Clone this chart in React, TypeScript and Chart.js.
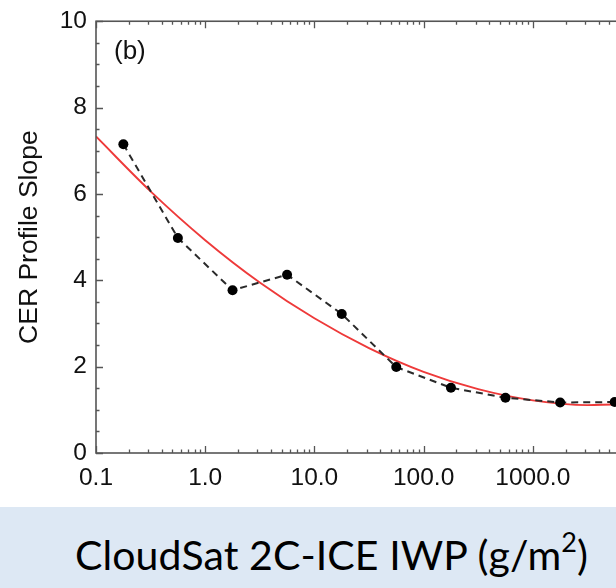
import React, { useEffect, useRef } from "react";
import { Chart, registerables } from "chart.js";

Chart.register(...registerables);

// ---- data ----
const iwpBins = [0.178, 0.562, 1.78, 5.62, 17.8, 56.2, 178, 562, 1780, 5620];
const slopeValues = [7.15, 4.98, 3.77, 4.13, 3.22, 1.99, 1.51, 1.28, 1.17, 1.18];

const fitIwp = [0.1, 0.316, 1, 3.16, 10, 31.6, 100, 316, 1000, 3160, 10000];
const fitSlope = [7.33, 6.06, 4.93, 3.95, 3.12, 2.43, 1.88, 1.48, 1.22, 1.11, 1.14];

const xTickValues = [0.1, 1, 10, 100, 1000];
const xTickLabels = ["0.1", "1.0", "10.0", "100.0", "1000.0"];
const xDecades = [0.1, 1, 10, 100, 1000, 10000];
const yTickValues = [0, 2, 4, 6, 8, 10];
const yMinorStep = 0.5;

const yTitle = "CER Profile Slope";
const xTitle = "CloudSat 2C-ICE IWP (g/m";
const panelLabel = "(b)";

const AXIS_COLOR = "#555555";
const TEXT_COLOR = "#111111";

const framePlugin = {
  id: "frame",
  afterDatasetsDraw(chart: any) {
    const { ctx, chartArea } = chart;
    const { left, right, top, bottom } = chartArea;
    const xs = chart.scales.x;
    const ys = chart.scales.y;
    ctx.save();
    ctx.strokeStyle = AXIS_COLOR;
    ctx.lineWidth = 1.6;
    ctx.strokeRect(left, top, right - left, bottom - top);
    ctx.lineWidth = 1.3;
    ctx.beginPath();
    const major = 7;
    const minor = 3.5;
    xDecades.forEach((d) => {
      for (let k = 1; k <= 9; k++) {
        const v = d * k;
        if (v > xs.max * 1.0001) continue;
        const px = Math.round(xs.getPixelForValue(v)) + 0.5;
        const len = k === 1 ? major : minor;
        ctx.moveTo(px, bottom);
        ctx.lineTo(px, bottom - len);
        ctx.moveTo(px, top);
        ctx.lineTo(px, top + len);
      }
    });
    for (let v = ys.min; v <= ys.max + 1e-6; v += yMinorStep) {
      const py = Math.round(ys.getPixelForValue(v)) + 0.5;
      const isMajor = yTickValues.includes(Math.round(v * 100) / 100);
      const len = isMajor ? major : minor;
      ctx.moveTo(left, py);
      ctx.lineTo(left + len, py);
      ctx.moveTo(right, py);
      ctx.lineTo(right - len, py);
    }
    ctx.stroke();
    ctx.fillStyle = TEXT_COLOR;
    ctx.font = "26px 'Liberation Sans', Arial, sans-serif";
    ctx.textBaseline = "middle";
    ctx.textAlign = "left";
    ctx.fillText(panelLabel, left + 18, top + 31);
    ctx.restore();
  },
};

export default function App() {
  const canvasRef = useRef<HTMLCanvasElement | null>(null);

  useEffect(() => {
    const canvas = canvasRef.current;
    if (!canvas) return;
    const chart = new Chart(canvas, {
      type: "line",
      data: {
        datasets: [
          {
            label: "binned",
            data: iwpBins.map((x, i) => ({ x, y: slopeValues[i] })),
            borderColor: "#2a2a2a",
            borderWidth: 2,
            borderDash: [7, 5],
            pointRadius: 5,
            pointBackgroundColor: "#000000",
            pointBorderColor: "#000000",
            pointBorderWidth: 0,
            tension: 0,
            order: 1,
          },
          {
            label: "fit",
            data: fitIwp.map((x, i) => ({ x, y: fitSlope[i] })),
            borderColor: "#ee3a3a",
            borderWidth: 1.9,
            pointRadius: 0,
            cubicInterpolationMode: "monotone",
            order: 2,
          },
        ],
      },
      options: {
        responsive: false,
        animation: false,
        devicePixelRatio: 1,
        layout: { padding: { left: 0, top: 13, right: 38, bottom: 0 } },
        plugins: {
          legend: { display: false },
          tooltip: { enabled: false },
        },
        scales: {
          x: {
            type: "logarithmic",
            min: 0.1,
            max: 10000,
            position: "bottom",
            grid: { display: false, drawTicks: false },
            border: { display: false },
            afterBuildTicks: (scale: any) => {
              scale.ticks = xTickValues.map((v) => ({ value: v }));
            },
            afterFit: (scale: any) => {
              scale.height = 54;
            },
            ticks: {
              autoSkip: false,
              maxRotation: 0,
              padding: 11,
              color: TEXT_COLOR,
              font: { family: "'Liberation Sans', Arial, sans-serif", size: 24.5, lineHeight: 1.2 },
              callback: (value: any) => {
                const i = xTickValues.findIndex((v) => Math.abs(v - Number(value)) < 1e-9);
                return i >= 0 ? xTickLabels[i] : "";
              },
            },
          },
          y: {
            type: "linear",
            min: 0,
            max: 10,
            grid: { display: false, drawTicks: false },
            border: { display: false },
            afterBuildTicks: (scale: any) => {
              scale.ticks = yTickValues.map((v) => ({ value: v }));
            },
            afterFit: (scale: any) => {
              scale.width = 96;
            },
            ticks: {
              padding: 9,
              color: TEXT_COLOR,
              font: { family: "'Liberation Sans', Arial, sans-serif", size: 24.5, lineHeight: 1 },
            },
            title: {
              display: true,
              text: yTitle,
              color: TEXT_COLOR,
              font: { family: "'Liberation Sans', Arial, sans-serif", size: 26.5, lineHeight: 1.2 },
              padding: { top: 14, bottom: 0 },
            },
          },
        },
      },
      plugins: [framePlugin],
    } as any);
    return () => chart.destroy();
  }, []);

  return (
    <div
      style={{
        position: "fixed",
        left: 0,
        top: 0,
        width: 616,
        height: 588,
        overflow: "hidden",
        background: "#ffffff",
      }}
    >
      <canvas
        ref={canvasRef}
        width={680}
        height={507}
        style={{ position: "absolute", left: 0, top: 0, width: 680, height: 507 }}
      />
      <div
        style={{
          position: "absolute",
          left: 0,
          top: 507,
          width: 616,
          height: 81,
          background: "#dde8f4",
        }}
      >
        <div
          style={{
            position: "absolute",
            left: 75,
            top: 24,
            fontFamily: "Lato, 'Open Sans', sans-serif",
            fontSize: 41,
            lineHeight: "48px",
            color: "#000000",
            whiteSpace: "nowrap",
            letterSpacing: 0.1,
          }}
        >
          {xTitle}
          <sup style={{ fontSize: 27, verticalAlign: "0.65em", lineHeight: 0 }}>2</sup>)
        </div>
      </div>
    </div>
  );
}
